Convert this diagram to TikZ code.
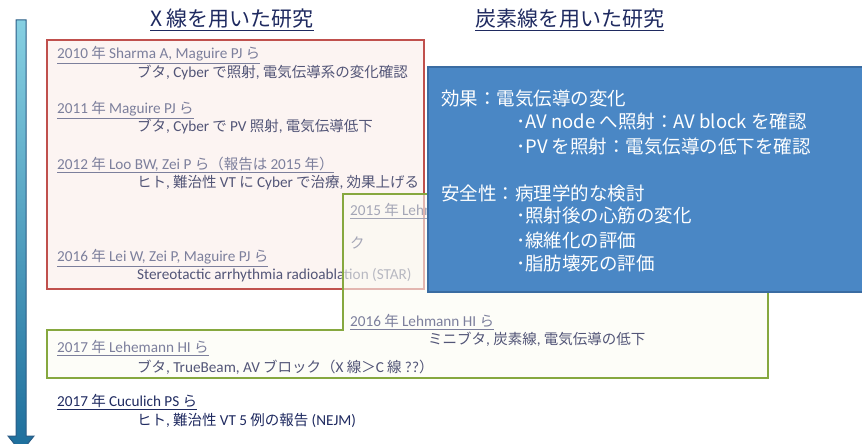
\documentclass[tikz,border=0pt]{standalone}
\usepackage{fontspec}
\setmainfont{Noto Sans CJK JP}
\newfontfamily\lt[Scale=1.05]{Carlito}
\definecolor{navy}{HTML}{1F2A60}
\definecolor{yrc}{HTML}{7C7F9C}
\definecolor{descc}{HTML}{525577}
\definecolor{pale}{HTML}{A4A6B6}
\definecolor{redb}{HTML}{C0504D}
\definecolor{redfill}{HTML}{FCF4F2}
\definecolor{greenb}{HTML}{86A83F}
\definecolor{greenfill}{HTML}{FBFBF3}
\definecolor{bluefill}{HTML}{4A87C5}
\definecolor{blueb}{HTML}{3A6CA2}
\definecolor{arrtop}{HTML}{86D0E2}
\definecolor{arrbot}{HTML}{1D6E9C}
\definecolor{arrline}{HTML}{2A5C86}
\tikzset{
  yrtext/.style={anchor=west,inner sep=0pt,text=yrc,font=\fontsize{14.5}{17}\selectfont},
  desctext/.style={anchor=west,inner sep=0pt,text=descc,font=\fontsize{14.5}{17}\selectfont},
  bluetext/.style={anchor=west,inner sep=0pt,text=white,font=\fontsize{18.5}{22}\selectfont},
  titletext/.style={anchor=west,inner sep=0pt,text=navy,font=\fontsize{21}{25}\selectfont},
}
\begin{document}
\begin{tikzpicture}[x=1pt,y=-1pt]
\useasboundingbox (0,0) rectangle (862,444);
\clip (0,0) rectangle (862,444);
% timeline arrow
\shade[top color=arrtop,bottom color=arrbot,draw=arrline,line width=1pt]
  (16,20) -- (26,20) -- (26,436) -- (34,436) -- (21,452) -- (8,436) -- (16,436) -- cycle;
% titles
\node[titletext] (t1) at (150,20) {\underline{X 線を用いた研究}};
\node[titletext] (t2) at (475,20) {\underline{炭素線を用いた研究}};
% red box
\draw[redb,fill=redfill,line width=2pt] (47,40) rectangle (424,289);
\node[yrtext] (a1) at (57,55) {\underline{{\lt 2010} 年 {\lt Sharma A, Maguire PJ} ら}};
\node[desctext] (a2) at (137,73) {ブタ{\lt ,} {\lt Cyber} で照射{\lt ,} 電気伝導系の変化確認};
\node[yrtext] (b1) at (57,110) {\underline{{\lt 2011} 年 {\lt Maguire PJ} ら}};
\node[desctext] (b2) at (137,127) {ブタ{\lt ,} {\lt Cyber} で {\lt PV} 照射{\lt ,} 電気伝導低下};
\node[yrtext] (c1) at (57,165) {\underline{{\lt 2012} 年 {\lt Loo BW, Zei P} ら（報告は {\lt 2015} 年）}};
\node[desctext] (c2) at (137,183) {ヒト{\lt ,} 難治性 {\lt VT} に {\lt Cyber} で治療{\lt ,} 効果上げる};
\node[yrtext] (d1) at (57,258) {\underline{{\lt 2016} 年 {\lt Lei W, Zei P, Maguire PJ} ら}};
\node[desctext] (d2) at (137,275) {\lt Stereotactic arrhythmia radioablation (STAR)};
% green box
\fill[greenfill,opacity=0.6] (47,330) -- (343,330) -- (343,194) -- (768,194) -- (768,378) -- (47,378) -- cycle;
\draw[greenb,line width=2pt] (47,330) -- (343,330) -- (343,194) -- (768,194) -- (768,378) -- (47,378) -- cycle;
\node[yrtext,text=pale] (e1) at (350,211) {\underline{{\lt 2015} 年 {\lt Lehmann HI} ら}};
\node[desctext,text=pale] (e2) at (350,243) {ク};
\node[yrtext] (f1) at (350,322) {\underline{{\lt 2016} 年 {\lt Lehmann HI} ら}};
\node[desctext] (f2) at (428,339) {ミニブタ{\lt ,} 炭素線{\lt ,} 電気伝導の低下};
\node[yrtext] (g1) at (57,348) {\underline{{\lt 2017} 年 {\lt Lehemann HI} ら}};
\node[desctext] (g2) at (137,367) {ブタ{\lt ,} {\lt TrueBeam, AV} ブロック（{\lt X} 線＞{\lt C} 線 {\lt ??}）};
% Cuculich
\node[yrtext,text=navy] (h1) at (57,402) {\underline{{\lt 2017} 年 {\lt Cuculich PS} ら}};
\node[desctext,text=navy] (h2) at (137,420) {ヒト{\lt ,} 難治性 {\lt VT 5} 例の報告 {\lt (NEJM)}};
% blue box
\draw[blueb,fill=bluefill,line width=1.5pt] (428,67) rectangle (870,292);
\node[bluetext] (k1) at (441,99) {効果：電気伝導の変化};
\node[bluetext] (k2) at (516,122) {･AV node へ照射：AV block を確認};
\node[bluetext] (k3) at (516,147) {･PV を照射：電気伝導の低下を確認};
\node[bluetext] (k4) at (441,193) {安全性：病理学的な検討};
\node[bluetext] (k5) at (516,215) {･照射後の心筋の変化};
\node[bluetext] (k6) at (516,240) {･線維化の評価};
\node[bluetext] (k7) at (516,263) {･脂肪壊死の評価};
\end{tikzpicture}
\end{document}
